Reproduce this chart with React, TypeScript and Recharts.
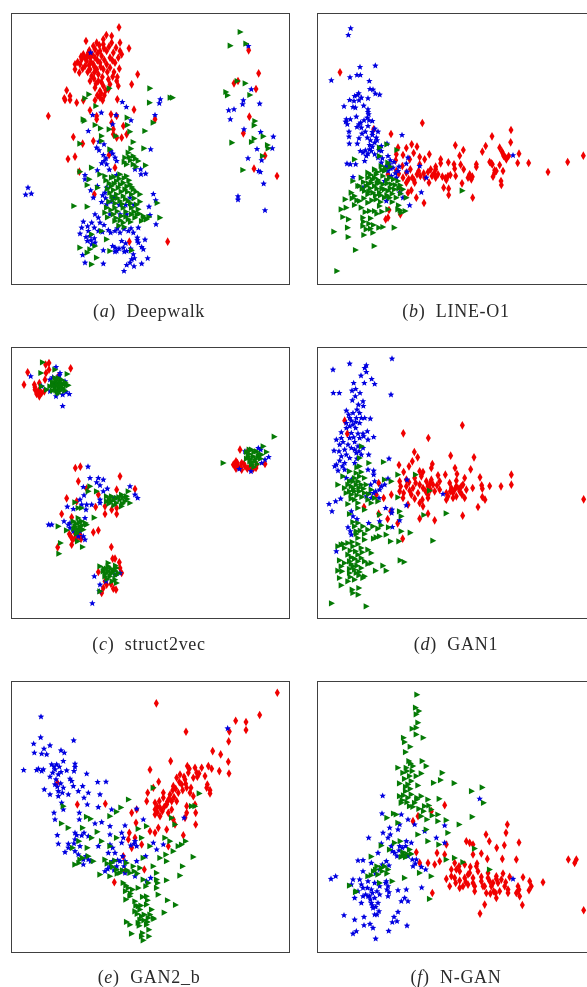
import { ScatterChart, Scatter, XAxis, YAxis } from 'recharts'

type Pt = [number, number]

// all values at 3x zoom, one domain per panel
const X_LEFT: [number, number] = [33, 870]
const X_RIGHT: [number, number] = [52, 889]

const aRed: Pt[] = [[357,79],[258,120],[319,102],[335,105],[310,115],[335,125],[360,125],[290,125],[280,135],[310,130],[387,142],[360,150],[285,145],[265,155],[250,160],[300,150],[320,150],[340,155],[365,160],[270,170],[245,175],[260,180],[285,170],[305,165],[330,170],[355,170],[225,190],[240,190],[255,195],[280,190],[300,185],[320,190],[345,185],[225,205],[238,215],[270,205],[290,205],[310,205],[330,200],[275,225],[295,220],[413,220],[325,235],[350,240],[295,240],[270,240],[395,250],[355,255],[330,250],[310,255],[285,260],[200,268],[325,265],[300,270],[210,285],[195,297],[210,297],[230,305],[250,298],[285,298],[300,290],[308,298],[352,295],[402,326],[270,328],[145,345],[290,345],[333,340],[350,345],[335,365],[290,355],[370,375],[340,385],[340,400],[380,400],[365,410],[350,410],[220,408],[248,428],[280,420],[327,462],[225,467],[204,474],[345,500],[465,355],[238,512],[283,580],[388,722],[503,722],[746,148],[776,217],[702,247],[714,240],[768,264],[748,347],[730,397],[795,464],[762,503],[831,525],[268,148],[277,161],[293,157],[312,142],[327,137],[348,140],[256,172],[273,183],[292,178],[313,177],[337,178],[233,183],[248,203],[263,213],[283,214],[302,197],[322,213],[342,213],[358,203],[282,233],[307,228],[338,227],[352,228],[288,248],[304,243],[317,268],[292,283],[303,277],[313,283],[263,163],[243,167],[298,133],[267,193],[283,197],[193,292]]
const aBlue: Pt[] = [[272,155],[367,303],[379,318],[481,295],[478,307],[304,335],[278,342],[348,342],[393,358],[465,342],[265,390],[338,370],[297,422],[312,430],[290,440],[452,445],[310,462],[332,450],[345,470],[350,480],[312,480],[320,490],[292,508],[255,522],[255,535],[350,522],[405,505],[422,505],[437,518],[423,520],[272,568],[292,555],[320,560],[315,575],[280,590],[305,603],[320,610],[340,590],[390,590],[460,579],[467,598],[447,617],[285,640],[295,650],[330,640],[360,640],[380,640],[450,642],[468,670],[250,662],[275,665],[300,665],[240,698],[245,680],[265,690],[270,705],[295,690],[325,687],[345,690],[360,695],[385,690],[415,680],[400,695],[412,710],[435,716],[415,725],[425,738],[430,745],[365,720],[370,740],[345,740],[350,750],[338,735],[310,748],[285,725],[262,720],[248,762],[255,785],[380,750],[400,760],[395,775],[390,785],[443,772],[425,788],[402,796],[380,792],[372,810],[310,788],[275,730],[84,560],[77,581],[94,578],[745,135],[754,265],[730,298],[728,310],[779,308],[702,325],[686,328],[691,355],[732,385],[782,393],[820,407],[817,442],[771,444],[744,472],[785,478],[776,510],[781,513],[791,548],[714,586],[714,596],[795,628],[263,676],[283,680],[312,672],[332,695],[352,682],[372,684],[393,682],[258,708],[283,712],[273,718],[307,693],[345,752],[357,743],[377,727],[373,752],[412,718],[392,743],[403,772],[317,592],[308,583],[333,602],[358,612],[377,612],[402,612],[297,448],[318,472],[338,458],[305,487],[328,506]]
const aGreen: Pt[] = [[721,93],[691,134],[738,128],[736,247],[712,240],[678,273],[683,283],[750,282],[765,360],[763,373],[790,406],[763,413],[755,423],[696,425],[803,432],[805,442],[788,465],[729,507],[450,262],[511,290],[518,290],[449,305],[267,280],[255,292],[288,315],[328,262],[253,360],[250,355],[286,372],[302,382],[328,385],[382,350],[383,372],[390,392],[460,365],[435,390],[348,405],[305,405],[305,420],[240,428],[400,423],[432,442],[330,445],[385,455],[400,465],[375,470],[415,480],[380,490],[400,490],[437,493],[240,512],[275,500],[300,520],[315,525],[268,535],[262,552],[293,560],[335,530],[360,520],[380,525],[350,540],[370,545],[390,550],[335,555],[355,560],[375,565],[400,565],[330,575],[350,580],[370,585],[395,580],[420,580],[340,595],[360,600],[385,600],[420,602],[472,606],[222,615],[262,617],[320,620],[345,620],[370,620],[395,620],[415,625],[315,635],[340,640],[365,645],[395,640],[430,645],[440,655],[425,660],[480,650],[345,660],[370,665],[405,650],[385,655],[305,690],[320,715],[275,700],[240,740],[270,745],[285,735],[262,755],[290,770],[275,790],[395,748],[330,750],[342,527],[358,533],[373,531],[387,538],[328,547],[343,548],[362,551],[381,556],[396,558],[323,563],[341,567],[364,572],[383,573],[408,572],[336,586],[353,591],[377,594],[403,592],[327,602],[346,607],[367,609],[392,607],[410,611],[333,627],[352,631],[378,632],[402,632],[418,638],[323,649],[348,651],[361,658],[378,647],[392,663],[412,641],[357,674],[373,678],[388,468],[392,478],[407,473],[393,443],[408,497],[373,483],[318,538],[432,650],[447,648]]

const bRed: Pt[] = [[121,214],[368,366],[274,399],[634,387],[577,406],[633,424],[467,433],[336,430],[352,437],[320,441],[558,435],[491,447],[548,452],[600,440],[607,452],[658,458],[851,464],[290,460],[342,456],[389,460],[480,464],[612,465],[620,475],[627,465],[330,475],[360,468],[375,475],[423,475],[310,462],[446,484],[423,487],[463,490],[483,491],[654,486],[687,486],[804,483],[570,483],[578,490],[600,492],[530,490],[530,498],[492,505],[465,503],[408,497],[408,505],[360,490],[357,510],[385,513],[415,520],[397,525],[408,530],[362,525],[338,530],[320,515],[310,530],[345,545],[388,545],[320,545],[445,525],[440,537],[428,527],[468,525],[510,520],[515,535],[505,530],[585,515],[580,527],[610,510],[590,510],[745,513],[604,540],[605,552],[487,547],[432,560],[447,563],[447,582],[519,590],[335,568],[350,590],[325,575],[373,606],[268,627],[302,640],[258,655],[265,650],[222,385],[295,440],[265,520],[290,510],[300,560],[372,517],[393,505],[403,517],[352,520],[327,534],[343,537],[375,530],[452,522],[437,531],[512,528],[518,527],[585,508],[575,487],[618,470],[610,458],[332,505],[297,518],[288,478],[308,495]]
const bBlue: Pt[] = [[153,82],[146,102],[181,198],[227,194],[95,238],[151,229],[172,222],[182,222],[209,240],[211,264],[220,266],[227,278],[240,281],[177,277],[165,285],[185,290],[150,297],[205,292],[133,316],[160,318],[167,320],[192,314],[205,325],[207,340],[203,350],[218,360],[140,355],[152,355],[143,370],[170,347],[183,365],[172,378],[185,380],[148,392],[148,407],[149,428],[187,398],[178,412],[173,428],[205,375],[225,383],[235,392],[218,402],[203,410],[230,410],[225,425],[210,432],[210,445],[262,428],[307,402],[245,435],[190,455],[200,465],[225,460],[245,450],[265,465],[142,488],[152,490],[168,490],[195,480],[245,485],[270,490],[280,500],[295,510],[265,510],[275,525],[325,470],[320,488],[360,495],[322,512],[380,530],[160,528],[190,560],[300,575],[365,574],[330,613],[640,463],[310,590],[260,600],[235,470],[290,530],[255,540],[182,450],[215,450],[272,478],[283,483],[258,497],[273,502],[287,517],[263,497],[298,497],[248,472],[218,437],[232,418],[212,418],[197,392],[178,370],[193,358],[208,358],[163,300],[173,282],[178,298],[138,362],[205,333],[218,393],[238,448],[197,448],[205,458]]
const bGreen: Pt[] = [[488,569],[112,810],[168,747],[224,735],[103,692],[146,708],[193,702],[144,680],[284,680],[238,680],[250,678],[220,695],[200,685],[190,675],[147,655],[130,648],[125,625],[140,620],[137,595],[155,575],[165,585],[180,600],[165,612],[185,620],[205,605],[190,650],[210,630],[225,630],[240,615],[265,625],[295,625],[317,630],[305,635],[165,475],[160,540],[185,530],[205,515],[225,505],[245,495],[265,485],[262,430],[292,447],[240,440],[240,465],[205,530],[225,530],[250,525],[270,530],[180,555],[200,555],[225,555],[250,550],[275,550],[295,540],[220,575],[240,575],[265,570],[285,565],[310,565],[230,595],[255,590],[290,590],[320,590],[205,580],[175,555],[240,545],[255,510],[230,520],[255,565],[270,590],[215,545],[195,570],[213,521],[233,513],[247,507],[258,503],[272,497],[218,536],[236,537],[262,537],[282,535],[192,543],[207,548],[233,546],[263,547],[287,552],[302,553],[188,563],[212,562],[232,563],[247,563],[272,562],[298,562],[208,572],[228,583],[243,583],[262,583],[278,578],[303,578],[193,592],[217,598],[243,603],[278,603],[172,598],[158,592],[197,633],[213,652],[232,638],[247,632],[192,662],[208,668],[297,613],[302,628],[213,683],[222,672]]

const cRed: Pt[] = [[147,85],[137,90],[83,113],[147,105],[212,101],[138,115],[72,150],[103,150],[118,145],[135,135],[105,165],[118,165],[110,178],[118,185],[133,170],[175,125],[720,345],[708,380],[700,390],[715,395],[725,385],[735,395],[750,395],[768,400],[795,388],[708,402],[725,405],[753,405],[770,390],[743,350],[226,400],[241,396],[360,425],[235,440],[260,462],[200,491],[185,538],[230,500],[287,517],[315,515],[315,538],[350,538],[335,525],[350,520],[295,480],[350,465],[405,463],[215,548],[280,593],[295,587],[212,605],[218,615],[230,600],[225,610],[240,600],[215,630],[173,638],[334,637],[338,672],[345,672],[358,683],[365,715],[295,712],[348,765],[320,750],[333,748],[310,760],[305,775],[705,392],[712,385],[722,398],[732,388],[742,402],[760,402],[105,158],[113,172],[125,175],[222,590],[232,610],[208,598],[243,613],[360,700],[315,740],[340,762]]
const cBlue: Pt[] = [[168,97],[92,125],[180,115],[150,135],[125,155],[160,150],[195,140],[168,185],[188,180],[208,178],[188,214],[150,170],[775,340],[806,367],[735,350],[718,403],[753,410],[785,385],[795,375],[264,396],[270,430],[295,430],[310,435],[290,443],[300,452],[250,457],[310,470],[322,462],[252,482],[240,495],[220,523],[202,516],[245,510],[260,510],[275,510],[258,525],[300,495],[300,505],[345,490],[390,455],[405,480],[413,490],[146,570],[155,570],[192,560],[210,565],[210,580],[255,550],[220,590],[240,590],[250,605],[255,615],[283,725],[300,750],[277,806],[298,770],[345,720],[360,715],[318,740],[178,122],[158,128],[198,172],[782,345],[228,595],[205,570],[235,605]]
const cGreen: Pt[] = [[128,83],[123,115],[202,118],[165,105],[125,155],[140,165],[150,155],[165,130],[175,130],[185,135],[165,145],[175,145],[190,150],[200,150],[165,160],[178,160],[190,160],[172,172],[823,306],[670,385],[790,335],[800,352],[740,352],[755,345],[770,350],[745,365],[760,365],[775,365],[750,380],[765,380],[755,390],[785,360],[270,455],[265,470],[290,470],[225,503],[235,520],[245,520],[320,485],[335,485],[350,490],[320,500],[335,500],[350,505],[365,480],[380,485],[360,495],[375,500],[390,505],[365,515],[385,470],[283,549],[175,575],[200,587],[220,560],[235,550],[245,560],[260,570],[225,575],[240,575],[250,585],[235,590],[182,625],[177,657],[248,637],[233,620],[300,695],[325,695],[350,700],[310,710],[325,710],[340,710],[355,715],[315,725],[330,725],[345,735],[350,745],[300,770],[325,685],[158,143],[168,137],[182,143],[196,143],[172,152],[183,152],[158,168],[168,167],[182,168],[195,168],[205,152],[176,176],[160,153],[748,358],[762,352],[777,358],[740,372],[752,373],[768,373],[782,372],[757,383],[772,388],[762,397],[748,345],[328,493],[342,495],[327,507],[342,512],[357,487],[370,488],[368,507],[382,493],[228,567],[238,563],[248,572],[222,582],[232,583],[243,582],[230,597],[257,565],[312,702],[320,702],[333,702],[347,693],[317,717],[333,717],[348,722],[322,733],[337,740],[345,708]]

const dRed: Pt[] = [[488,272],[311,296],[386,310],[344,352],[354,368],[453,363],[523,368],[338,380],[298,391],[328,395],[398,388],[395,400],[513,404],[466,400],[472,418],[635,420],[635,450],[312,412],[360,410],[370,412],[415,422],[437,420],[541,428],[300,440],[320,435],[345,430],[365,425],[380,440],[395,435],[420,440],[450,445],[470,438],[495,430],[570,454],[604,455],[546,452],[300,470],[320,455],[340,460],[360,450],[385,455],[400,450],[420,465],[455,460],[470,455],[490,450],[519,460],[548,462],[310,490],[335,480],[355,475],[385,480],[405,470],[440,475],[460,475],[480,470],[500,465],[495,490],[548,487],[556,495],[325,510],[360,505],[370,515],[385,490],[440,495],[460,490],[535,517],[852,494],[385,537],[360,552],[405,557],[489,543],[275,480],[252,490],[237,445],[230,480],[237,537],[264,553],[294,566],[309,612],[193,517],[135,258],[143,297],[273,530],[452,470],[465,465],[478,462],[445,485],[470,485],[485,455],[328,443],[348,445],[370,460],[392,445],[412,452],[330,468],[312,475],[345,492],[378,470],[368,495],[392,465],[303,455],[487,480]]
const dBlue: Pt[] = [[277,72],[150,87],[100,105],[200,92],[195,100],[200,112],[184,123],[216,133],[194,145],[225,148],[162,145],[101,175],[119,175],[157,168],[168,163],[181,175],[167,185],[158,197],[190,200],[191,214],[274,180],[176,210],[172,225],[140,228],[160,235],[180,235],[150,250],[170,250],[195,250],[212,252],[140,265],[160,270],[180,265],[140,280],[125,293],[155,295],[175,297],[190,297],[203,290],[110,315],[125,310],[150,310],[180,310],[205,315],[222,307],[120,330],[135,345],[155,340],[175,335],[190,340],[103,348],[125,365],[140,360],[170,355],[185,360],[207,360],[268,372],[110,390],[135,385],[165,385],[105,395],[115,408],[135,405],[205,405],[222,408],[222,420],[140,430],[155,435],[225,440],[265,432],[255,450],[240,465],[222,475],[200,485],[215,490],[238,490],[88,508],[108,500],[123,492],[97,530],[322,435],[430,478],[320,512],[258,520],[277,525],[276,535],[300,557],[240,560],[155,530],[160,545],[172,553],[145,578],[155,600],[152,590],[207,565],[278,577],[110,650],[155,258],[168,262],[147,240],[185,250],[150,275],[168,280],[162,308],[192,305],[130,322],[165,322],[145,330],[118,350],[165,345],[178,350],[120,378],[150,370],[172,372],[128,395],[213,450],[228,470],[245,455],[210,475]]
const dGreen: Pt[] = [[186,335],[208,385],[252,382],[180,370],[295,420],[348,420],[390,468],[180,395],[150,410],[130,425],[115,450],[135,460],[150,440],[165,430],[180,425],[195,430],[155,455],[170,450],[185,450],[200,450],[215,465],[150,470],[165,470],[180,470],[195,475],[225,490],[235,500],[145,508],[165,495],[175,505],[195,525],[150,538],[175,520],[255,435],[275,440],[295,488],[300,530],[305,545],[240,540],[373,541],[440,536],[332,594],[305,590],[273,620],[298,620],[400,618],[302,677],[314,682],[250,693],[228,708],[260,708],[175,565],[165,575],[190,575],[220,575],[205,585],[245,572],[267,578],[230,608],[240,605],[260,600],[170,590],[175,610],[195,615],[125,630],[145,625],[115,635],[135,640],[160,635],[185,640],[145,660],[175,660],[205,645],[215,655],[120,677],[150,680],[175,680],[195,680],[215,685],[125,695],[160,695],[185,700],[115,708],[150,715],[170,715],[195,725],[120,730],[145,740],[165,735],[125,752],[158,765],[178,760],[160,775],[176,780],[96,806],[200,815],[190,730],[160,440],[175,440],[145,450],[162,462],[178,460],[192,462],[207,478],[140,475],[155,480],[172,482],[187,487],[205,495],[215,505],[155,492],[170,415],[185,412],[172,398],[160,562],[170,598],[182,588],[195,598],[175,628],[158,622],[132,628],[152,648],[168,650],[188,653],[155,668],[165,672],[185,670],[135,685],[155,688],[172,693],[150,703],[165,705],[180,712],[152,727],[178,722],[127,710],[205,688],[235,582],[222,612]]

const eRed: Pt[] = [[832,70],[469,102],[779,137],[707,154],[738,158],[688,186],[738,182],[558,187],[686,216],[638,245],[662,255],[512,275],[685,277],[450,301],[562,290],[585,295],[605,295],[625,290],[635,298],[658,305],[687,312],[540,315],[565,310],[590,310],[615,320],[476,337],[530,325],[555,330],[580,325],[520,350],[545,345],[560,355],[460,355],[620,355],[630,372],[443,370],[490,370],[510,375],[535,370],[570,370],[580,380],[440,395],[490,385],[515,395],[530,395],[465,400],[500,405],[560,410],[585,405],[465,420],[480,415],[515,420],[465,435],[395,430],[480,440],[560,430],[410,420],[316,403],[232,405],[505,430],[520,450],[555,445],[587,430],[587,465],[475,475],[450,485],[465,490],[500,480],[525,465],[408,460],[388,490],[550,497],[385,510],[405,505],[425,525],[395,535],[370,560],[433,600],[343,638],[375,605],[172,340],[505,530],[552,322],[538,338],[557,343],[527,358],[548,362],[518,362],[522,383],[507,388],[502,397],[472,412],[487,425],[472,428],[478,395],[493,412],[573,355],[597,312],[592,322],[568,298],[630,362],[622,345]]
const eBlue: Pt[] = [[123,142],[122,204],[221,213],[101,223],[150,228],[132,238],[103,250],[125,253],[140,255],[183,243],[193,250],[71,302],[115,298],[125,305],[155,285],[170,285],[190,275],[225,283],[165,300],[200,303],[222,305],[260,313],[150,322],[175,315],[210,328],[293,338],[318,337],[165,345],[133,360],[190,355],[220,350],[248,350],[175,365],[150,375],[175,380],[205,375],[235,365],[265,370],[300,375],[252,385],[185,400],[262,405],[190,420],[295,413],[335,420],[410,418],[162,430],[238,430],[165,450],[238,450],[305,458],[285,462],[330,470],[375,468],[430,450],[552,445],[683,177],[172,497],[225,490],[252,490],[175,523],[205,523],[195,548],[225,510],[240,530],[225,545],[265,500],[295,530],[330,495],[365,490],[370,505],[405,515],[460,520],[490,525],[470,540],[437,560],[330,525],[325,550],[345,550],[365,520],[410,530],[250,570],[265,570],[235,555],[250,585],[360,575],[375,575],[350,590],[330,590],[315,605],[410,575],[375,610],[405,620],[452,625],[440,635],[162,292],[178,292],[158,310],[183,308],[168,330],[182,342],[172,352],[187,370],[225,293],[338,575],[368,560],[353,572],[323,598],[342,602],[372,590],[338,535],[402,523],[392,528],[110,302],[130,300],[215,335],[245,498],[222,522],[230,497],[205,535],[272,575],[258,560]]
const eGreen: Pt[] = [[386,390],[363,414],[350,427],[330,440],[598,372],[460,355],[585,410],[575,410],[525,465],[515,445],[190,410],[260,442],[272,448],[185,462],[205,475],[292,487],[248,475],[237,515],[275,505],[305,515],[262,535],[218,535],[350,505],[330,530],[415,478],[440,470],[495,505],[510,515],[557,515],[535,530],[545,525],[498,555],[520,545],[480,565],[500,575],[580,562],[548,590],[540,618],[500,632],[425,505],[450,530],[225,585],[240,570],[280,575],[315,570],[300,615],[335,580],[350,600],[330,620],[380,580],[400,590],[430,565],[460,590],[390,610],[420,595],[470,610],[470,630],[370,640],[385,655],[430,630],[445,640],[415,655],[470,655],[475,675],[390,680],[378,690],[440,680],[405,695],[415,710],[440,705],[503,692],[527,706],[405,725],[420,720],[455,720],[493,729],[425,740],[445,745],[460,745],[380,757],[415,760],[440,765],[447,780],[395,792],[425,800],[447,800],[430,812],[390,765],[322,582],[338,592],[352,612],[368,602],[382,602],[403,605],[412,612],[378,648],[398,660],[438,650],[428,682],[443,692],[408,708],[423,708],[412,733],[433,735],[450,735],[462,748],[432,752],[420,750],[443,757],[428,790],[418,768],[473,640],[377,665],[392,672],[248,565],[237,580],[265,560],[345,573],[360,610]]

const fRed: Pt[] = [[435,407],[623,465],[619,490],[559,495],[569,515],[658,519],[500,515],[510,520],[520,525],[614,527],[591,535],[545,552],[563,568],[608,568],[650,570],[806,570],[825,580],[830,570],[520,555],[350,548],[385,580],[405,585],[420,575],[435,555],[412,550],[440,525],[360,580],[465,580],[495,585],[530,590],[455,600],[480,605],[510,610],[535,605],[565,610],[590,620],[610,612],[630,622],[670,623],[440,628],[465,625],[495,625],[520,625],[545,635],[570,635],[595,640],[615,650],[690,635],[730,638],[450,650],[480,655],[505,645],[525,650],[550,650],[575,650],[600,665],[625,670],[655,650],[695,650],[525,665],[560,670],[590,685],[650,670],[660,680],[688,662],[668,706],[555,705],[541,732],[398,670],[852,722],[340,455],[395,425],[355,440],[478,590],[512,592],[532,582],[455,620],[480,633],[498,637],[520,640],[545,622],[555,650],[565,625],[580,640],[590,628],[605,630],[618,638],[582,665],[572,672],[588,670],[468,640],[490,650],[505,615],[655,665],[658,660],[625,660],[470,600]]
const fBlue: Pt[] = [[249,379],[540,388],[247,432],[305,435],[325,450],[300,465],[345,465],[435,468],[270,475],[295,480],[250,490],[375,485],[207,505],[265,505],[410,505],[435,520],[320,515],[335,520],[245,522],[275,530],[300,530],[235,550],[285,550],[325,560],[350,570],[190,572],[175,573],[215,580],[260,575],[340,590],[378,600],[190,605],[240,600],[108,620],[94,628],[160,630],[180,630],[260,635],[640,628],[205,635],[225,640],[155,645],[265,650],[240,650],[190,655],[215,660],[295,662],[320,660],[366,654],[165,685],[190,680],[210,680],[240,675],[265,680],[185,700],[215,700],[235,700],[315,685],[305,695],[325,695],[220,715],[238,725],[295,727],[225,735],[133,737],[193,742],[283,742],[165,750],[278,758],[292,755],[193,767],[211,763],[322,768],[220,775],[267,784],[170,785],[160,792],[228,807],[203,655],[218,670],[198,675],[225,685],[212,690],[205,680],[232,665],[258,640],[262,660],[268,668],[248,585],[268,588],[278,545],[292,560],[308,535],[318,530],[298,543],[338,570],[347,582],[365,592],[228,612],[185,645],[175,665],[218,707],[228,712],[232,735],[272,495]]
const fGreen: Pt[] = [[352,76],[348,115],[358,125],[350,135],[355,160],[350,175],[338,178],[350,195],[371,205],[312,205],[315,218],[332,232],[318,248],[328,275],[368,275],[380,290],[295,295],[320,295],[340,290],[365,312],[310,310],[330,320],[350,320],[428,310],[423,332],[402,340],[464,341],[300,342],[325,345],[355,348],[548,354],[516,365],[318,365],[300,380],[325,385],[365,380],[385,390],[419,388],[552,400],[305,400],[345,400],[375,410],[395,420],[330,410],[518,442],[415,435],[290,435],[262,445],[365,440],[415,455],[440,452],[479,465],[295,460],[382,450],[445,490],[355,495],[380,480],[418,525],[385,515],[285,520],[270,540],[245,528],[312,555],[330,540],[215,561],[245,595],[265,600],[235,615],[205,620],[465,565],[490,578],[570,600],[525,537],[395,620],[315,625],[278,635],[150,648],[170,665],[390,688],[240,640],[440,570],[360,610],[333,282],[322,305],[338,305],[315,328],[335,335],[318,352],[332,358],[312,378],[335,375],[308,392],[322,398],[352,390],[340,412],[358,418],[388,408],[372,425],[398,438],[282,432],[302,515],[310,548],[322,553],[335,553],[305,562],[318,563],[232,590],[248,605],[255,590],[222,605],[215,617],[228,600],[262,612],[168,668],[352,385]]

const toRows = (pts: Pt[]) => pts.map(([x, y]) => ({ x, y }))

function Diamond({ cx, cy }: { cx?: number; cy?: number }) {
  return <path transform={`translate(${cx},${cy})`} d="M0,-4.3L2.5,0L0,4.3L-2.5,0Z" fill="#f00000" />
}

function Star({ cx, cy }: { cx?: number; cy?: number }) {
  return (
    <path
      transform={`translate(${cx},${cy})`}
      d="M0,-3.3L0.95,-1.1L3.2,-1L1.5,0.5L2,2.8L0,1.5L-2,2.8L-1.5,0.5L-3.2,-1L-0.95,-1.1Z"
      fill="#0000e0"
    />
  )
}

function Triangle({ cx, cy }: { cx?: number; cy?: number }) {
  return <path transform={`translate(${cx},${cy})`} d="M-2.7,-3.1L3.3,0L-2.7,3.1Z" fill="#057a05" />
}

interface PanelProps {
  left: number
  top: number
  xDomain: [number, number]
  yDomain: [number, number]
  red: Pt[]
  blue: Pt[]
  green: Pt[]
  tag: string
  name: string
  captionX: number
  captionY: number
}

function Panel({ left, top, xDomain, yDomain, red, blue, green, tag, name, captionX, captionY }: PanelProps) {
  return (
    <>
      <div
        style={{
          position: 'absolute',
          left,
          top: Math.floor(top),
          width: 279,
          height: 272,
          boxSizing: 'border-box',
          border: '1.5px solid #404040',
        }}
      />
      <div style={{ position: 'absolute', left, top }}>
        <ScatterChart width={279} height={271} margin={{ top: 0, right: 0, bottom: 0, left: 0 }}>
          <XAxis dataKey="x" type="number" domain={xDomain} hide />
          <YAxis dataKey="y" type="number" domain={yDomain} reversed hide />
          <Scatter data={toRows(red)} shape={Diamond} isAnimationActive={false} />
          <Scatter data={toRows(blue)} shape={Star} isAnimationActive={false} />
          <Scatter data={toRows(green)} shape={Triangle} isAnimationActive={false} />
        </ScatterChart>
      </div>
      <div
        style={{
          position: 'absolute',
          left: captionX - 100,
          top: captionY,
          width: 200,
          textAlign: 'center',
          fontFamily: '"Liberation Serif", serif',
          fontSize: 18,
          letterSpacing: 0.7,
          color: '#2a2a2a',
          whiteSpace: 'pre',
        }}
      >
        (<i>{tag}</i>){'  '}{name}
      </div>
    </>
  )
}

export default function App() {
  return (
    <div
      style={{
        position: 'fixed',
        left: 0,
        top: 0,
        width: 587,
        height: 987,
        overflow: 'hidden',
        background: '#fff',
        filter: 'blur(0.45px)',
      }}
    >
      <Panel left={11} top={13.5} xDomain={X_LEFT} yDomain={[39, 852]} red={aRed} blue={aBlue} green={aGreen} tag="a" name="Deepwalk" captionX={149} captionY={301} />
      <Panel left={317} top={13.5} xDomain={X_RIGHT} yDomain={[39, 852]} red={bRed} blue={bBlue} green={bGreen} tag="b" name="LINE-O1" captionX={456} captionY={301} />
      <Panel left={11} top={347} xDomain={X_LEFT} yDomain={[37, 850]} red={cRed} blue={cBlue} green={cGreen} tag="c" name="struct2vec" captionX={149} captionY={634} />
      <Panel left={317} top={347} xDomain={X_RIGHT} yDomain={[37, 850]} red={dRed} blue={dBlue} green={dGreen} tag="d" name="GAN1" captionX={456} captionY={634} />
      <Panel left={11} top={681} xDomain={X_LEFT} yDomain={[35, 847]} red={eRed} blue={eBlue} green={eGreen} tag="e" name="GAN2_b" captionX={149} captionY={967} />
      <Panel left={317} top={681} xDomain={X_RIGHT} yDomain={[35, 847]} red={fRed} blue={fBlue} green={fGreen} tag="f" name="N-GAN" captionX={456} captionY={967} />
    </div>
  )
}
